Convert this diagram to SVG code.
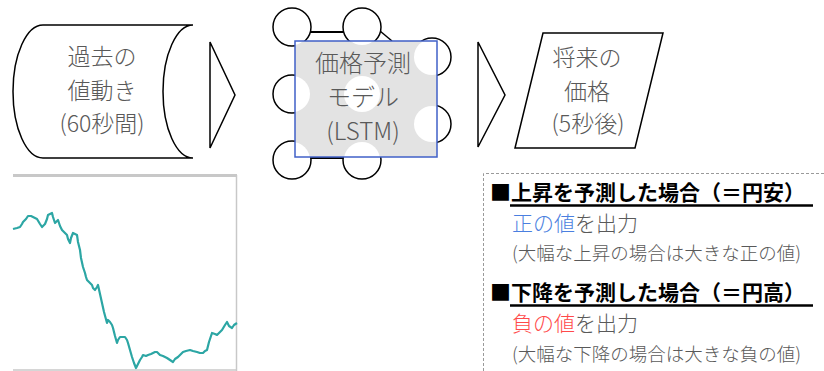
<svg xmlns="http://www.w3.org/2000/svg" width="824" height="371" viewBox="0 0 824 371">
<style>
.shape{fill:#fff;stroke:#000;stroke-width:1.5}
.lbl{font-family:"Noto Sans CJK JP","Noto Sans",sans-serif;font-size:23px;font-weight:300;fill:#595959;text-anchor:middle}
.note{font-family:"Noto Sans CJK JP","Noto Sans",sans-serif;font-weight:300;fill:#595959}
.head{font-size:21px;font-weight:bold;fill:#000}
.out{font-size:21px}
.sub{font-size:18.5px}
.ul{stroke:#000;stroke-width:2.5}
</style>
<defs>
<clipPath id="boxclip"><rect x="295" y="41" width="142" height="116"/></clipPath>
</defs>
<rect width="824" height="371" fill="#fff"/>

<g id="past">
<path class="shape" d="M43 25 L193 25 A30 66.5 0 0 0 193 158 L43 158 A30 66.5 0 0 1 43 25 Z"/>
<text class="lbl" x="102" y="65">過去の</text>
<text class="lbl" x="102" y="99">値動き</text>
<text class="lbl" x="102" y="132">(60秒間)</text>
</g>

<g id="model">
<g class="net">
<line x1="310" y1="32" x2="344" y2="32" stroke="#000" stroke-width="2"/>
<line x1="310" y1="158" x2="344" y2="158" stroke="#000" stroke-width="2"/>
<line x1="380" y1="31" x2="392" y2="41" stroke="#000" stroke-width="1.5"/>
<circle class="shape" cx="292" cy="27" r="19"/>
<circle class="shape" cx="362" cy="27" r="19"/>
<circle class="shape" cx="292" cy="94" r="19"/>
<circle class="shape" cx="362" cy="94" r="19"/>
<circle class="shape" cx="292" cy="160" r="19"/>
<circle class="shape" cx="362" cy="160" r="19"/>
<circle class="shape" cx="432" cy="57" r="19"/>
<circle class="shape" cx="432" cy="124" r="19"/>
</g>
<rect x="295" y="41" width="142" height="116" fill="#e3e3e3"/>
<g clip-path="url(#boxclip)" fill="#fff">
<circle cx="292" cy="27" r="18"/>
<circle cx="362" cy="27" r="18"/>
<circle cx="292" cy="94" r="18"/>
<circle cx="362" cy="94" r="18"/>
<circle cx="292" cy="160" r="18"/>
<circle cx="362" cy="160" r="18"/>
<circle cx="432" cy="57" r="18"/>
<circle cx="432" cy="124" r="18"/>
</g>
<rect x="295" y="41" width="142" height="116" fill="none" stroke="#4060c8" stroke-width="1.5"/>
<text class="lbl" x="363" y="72" style="font-size:24px">価格予測</text>
<text class="lbl" x="363" y="106" style="font-size:24px">モデル</text>
<text class="lbl" x="363" y="140" style="font-size:24px">(LSTM)</text>
</g>

<g id="future">
<polygon class="shape" points="543,33 663,33 635,148 515,148"/>
<text class="lbl" x="587" y="66">将来の</text>
<text class="lbl" x="587" y="100">価格</text>
<text class="lbl" x="588" y="132">(5秒後)</text>
</g>

<g id="connectors">
<polygon class="shape" points="210,42 235,95 210,148"/>
<polygon class="shape" points="478,42 505,95 478,147"/>
</g>

<g id="chart">
<line x1="13" y1="175.5" x2="237" y2="175.5" stroke="#c8c8c8" stroke-width="3"/>
<line x1="236.5" y1="175" x2="236.5" y2="371" stroke="#c8c8c8" stroke-width="1.5"/>
<line x1="13" y1="370" x2="237" y2="370" stroke="#c8c8c8" stroke-width="1.5"/>
<polyline fill="none" stroke="#2ca6a4" stroke-width="2.2" stroke-linejoin="round" points="13,229 17,228 20,227 22,224 23,222 26,219 28,216 31,216 33,217 35,218 37,219 40,224 42,227 44,225 45,224 47,219 48,215 50,214 52,213 53,217 55,223 57,221 58,220 60,226 62,230 64,232 67,235 68,239 70,243 71,238 73,233 75,234 77,235 78,242 80,250 81,258 83,267 84,270 85,273 86,277 87,280 89,282 92,285 93,288 95,290 97,287 98,285 100,294 102,303 104,312 107,323 108,320 110,322 112,325 113,328 115,336 117,343 118,340 120,337 122,337 125,337 127,340 128,343 130,350 132,357 134,363 136,368 138,364 140,360 142,357 143,355 146,356 148,355 151,354 153,353 155,352 157,352 159,354 160,355 163,356 167,358 170,360 173,362 175,359 178,357 180,355 183,352 186,351 190,350 193,351 197,352 200,353 203,353 205,351 207,350 209,342 212,333 215,334 217,335 220,332 222,330 225,325 227,322 229,326 232,328 234,325 237,323"/>
</g>

<g id="notes">
<path d="M824 173.5 H483.5 V371" fill="none" stroke="#9a9a9a" stroke-width="1" stroke-dasharray="3 2"/>
<text class="note head" x="490" y="200">■上昇を予測した場合（＝円安）</text>
<line class="ul" x1="510" y1="205.5" x2="813" y2="205.5"/>
<text class="note out" x="512" y="231"><tspan fill="#4a7fe0">正の値</tspan>を出力</text>
<text class="note sub" x="512" y="260">(大幅な上昇の場合は大きな正の値)</text>
<text class="note head" x="490" y="300">■下降を予測した場合（＝円高）</text>
<line class="ul" x1="510" y1="305.5" x2="813" y2="305.5"/>
<text class="note out" x="512" y="331"><tspan fill="#ff4a4a">負の値</tspan>を出力</text>
<text class="note sub" x="512" y="361">(大幅な下降の場合は大きな負の値)</text>
</g>
</svg>
